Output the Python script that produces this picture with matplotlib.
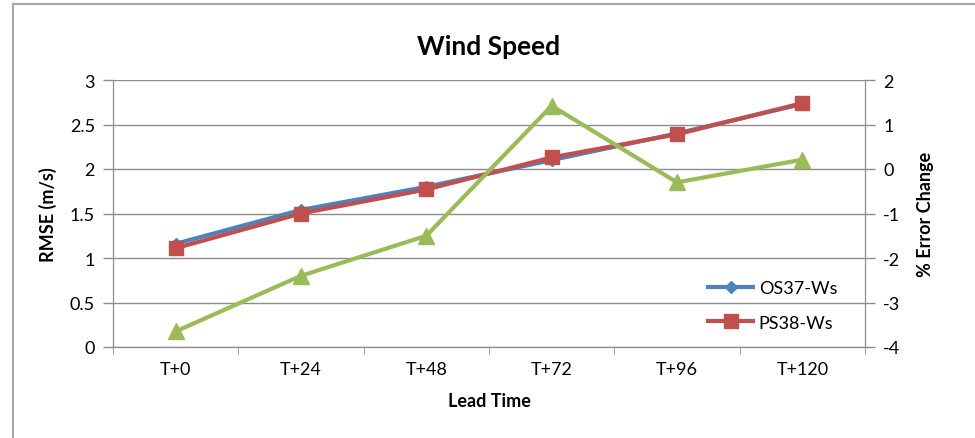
import numpy as np
import matplotlib.pyplot as plt
from matplotlib.patches import Rectangle

# lead times and scores
lead_times = ['T+0', 'T+24', 'T+48', 'T+72', 'T+96', 'T+120']
os37_ws = [1.16, 1.54, 1.80, 2.10, 2.40, 2.73]
ps38_ws = [1.11, 1.50, 1.77, 2.13, 2.39, 2.74]
pct_change = [-3.65, -2.40, -1.50, 1.42, -0.30, 0.21]

plt.rcParams['font.family'] = ['Lato', 'DejaVu Sans']
plt.rcParams['axes.unicode_minus'] = False

blue = '#4F81BD'
red = '#C0504D'
green = '#9BBB59'
grid_c = '#8C8C8C'

fig = plt.figure(figsize=(9.75, 4.39), dpi=100)
# chart border
fig.patches.append(Rectangle((13/975, -0.1), 1.2, 1 - 5/439 + 0.1,
                             transform=fig.transFigure, fill=False,
                             edgecolor='#A6A6A6', lw=1.5))

ax = fig.add_axes([113/975, 1 - 348/439, 752/975, 267/439])
x = np.arange(len(lead_times))

ax.plot(x, os37_ws, color=blue, lw=3, marker='D', ms=6, mfc=blue, mec=blue,
        label='OS37-Ws', zorder=3)
ax.plot(x, ps38_ws, color=red, lw=3, marker='s', ms=10, mfc=red, mec=red,
        label='PS38-Ws', zorder=4)

ax.set_xlim(-0.5, len(lead_times) - 0.5)
ax.set_ylim(0, 3)
ax.set_yticks(np.arange(0, 3.01, 0.5))
ax.set_yticklabels(['0', '0.5', '1', '1.5', '2', '2.5', '3'])
ax.yaxis.grid(True, color=grid_c, lw=1)
ax.set_axisbelow(True)
ax.set_xticks(x)
ax.set_xticklabels(lead_times)
ax.set_xticks(np.arange(-0.5, len(lead_times)), minor=True)
ax.tick_params(axis='x', which='major', length=0, pad=10, labelsize=13)
ax.tick_params(axis='x', which='minor', length=5, color=grid_c)
ax.tick_params(axis='y', length=7, color=grid_c, width=1, labelsize=13, pad=6)

for s in ['left', 'right', 'bottom']:
    ax.spines[s].set_color(grid_c)
ax.spines['top'].set_visible(False)

ax.set_ylabel('RMSE (m/s)', fontweight='bold', fontsize=13, labelpad=9)
ax.set_xlabel('Lead Time', fontweight='bold', fontsize=13, labelpad=11)
ax.set_title('Wind Speed', fontweight='bold', fontsize=19, pad=19)

ax2 = ax.twinx()
ax2.plot(x, pct_change, color=green, lw=3, marker='^', ms=11, mfc=green,
         mec=green, zorder=3)
ax2.set_ylim(-4, 2)
ax2.set_yticks(np.arange(-4, 2.1, 1))
ax2.tick_params(axis='y', length=7, color=grid_c, width=1, labelsize=13, pad=6)
for s in ['left', 'right', 'bottom']:
    ax2.spines[s].set_color(grid_c)
ax2.spines['top'].set_visible(False)
ax2.set_ylabel('% Error Change', fontweight='bold', fontsize=13, labelpad=12)

ax2.legend(*ax.get_legend_handles_labels(), loc='upper left',
           bbox_to_anchor=(0.77, 0.31), frameon=False, fontsize=13,
           handlelength=2.5, labelspacing=1.0, handletextpad=0.3)

fig.savefig('out.png', dpi=100)
